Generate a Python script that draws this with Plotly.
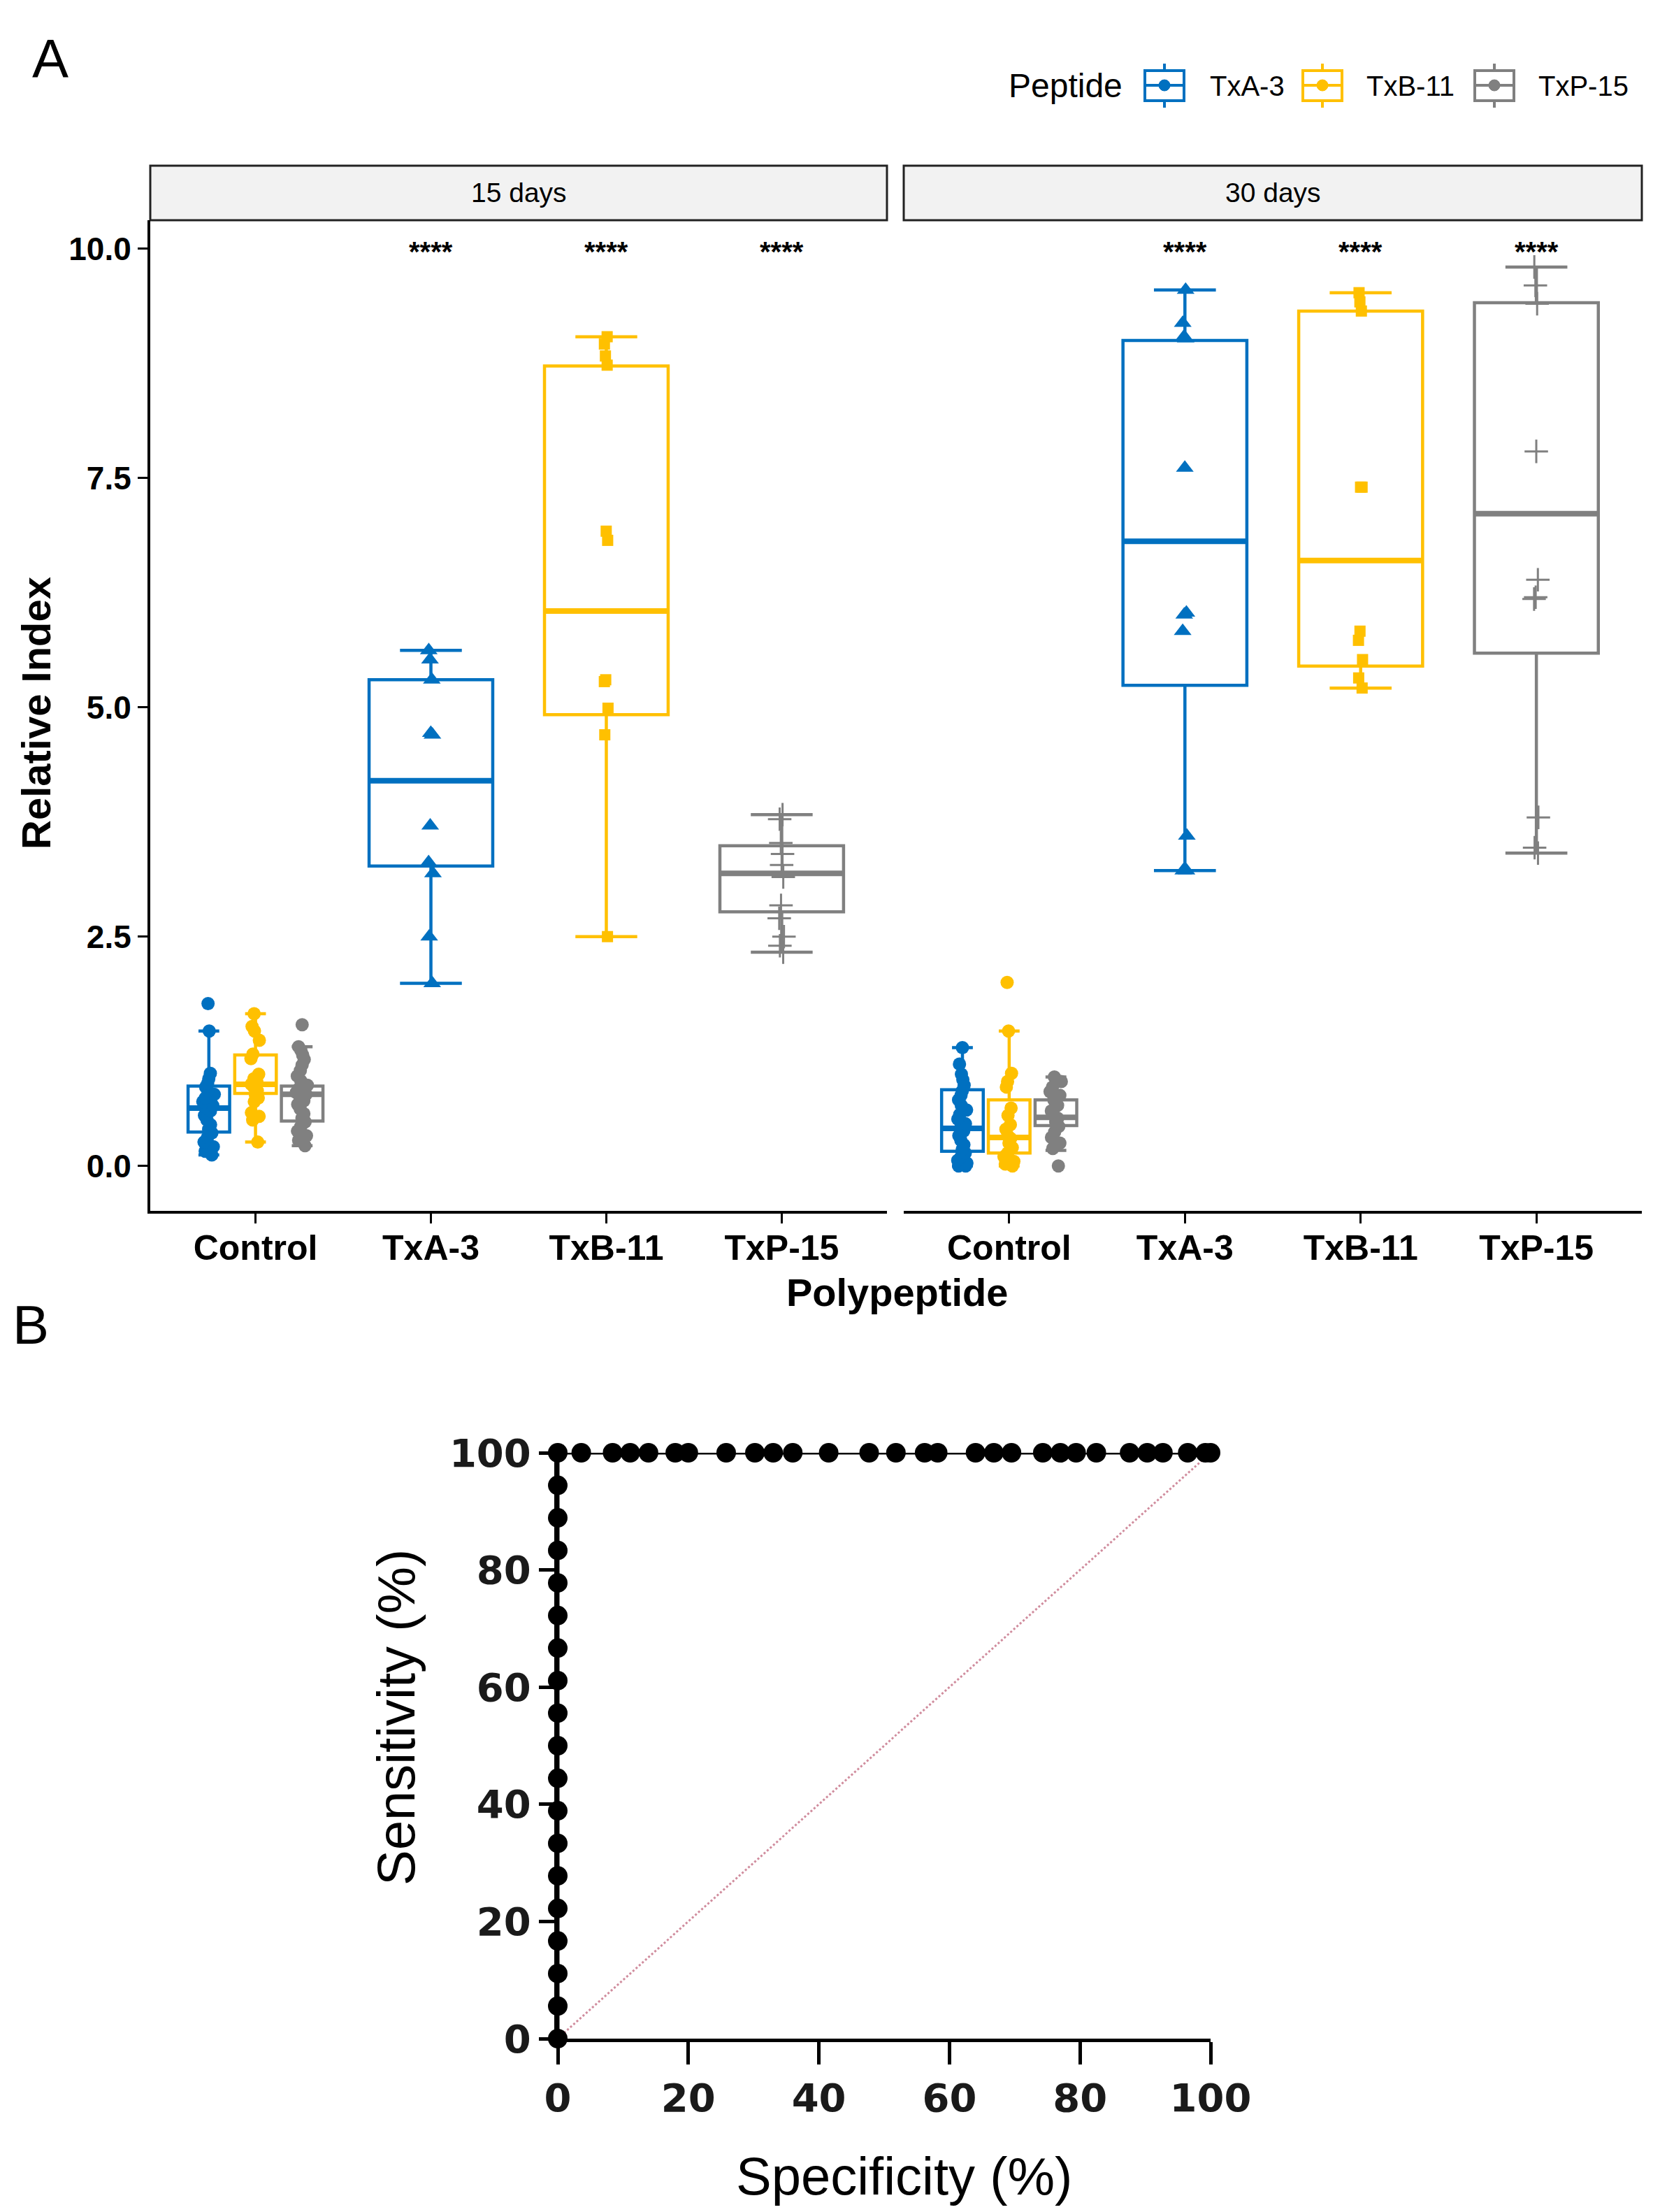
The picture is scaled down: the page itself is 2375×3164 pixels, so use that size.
#######################################
#                package              #
#######################################
import plotly.graph_objects as go

#######################################
#                 Data                #
#######################################

categories = ['Control', 'TxA-3', 'TxB-11', 'TxP-15']
peptides = ['TxA-3', 'TxB-11', 'TxP-15']
days = ['15 days', '30 days']
stars = ['****', '****', '****']

# box statistics (order: TxA-3, TxB-11, TxP-15)
ctrl_q1_15 = [0.37, 0.79, 0.49]
ctrl_med_15 = [0.63, 0.89, 0.78]
ctrl_q3_15 = [0.87, 1.21, 0.87]
ctrl_lo_15 = [0.12, 0.26, 0.22]
ctrl_hi_15 = [1.47, 1.66, 1.30]

trt_q1_15 = [3.27, 4.92, 2.77]
trt_med_15 = [4.20, 6.05, 3.19]
trt_q3_15 = [5.30, 8.72, 3.49]
trt_lo_15 = [1.99, 2.50, 2.33]
trt_hi_15 = [5.62, 9.04, 3.83]

ctrl_q1_30 = [0.16, 0.14, 0.44]
ctrl_med_30 = [0.41, 0.31, 0.53]
ctrl_q3_30 = [0.83, 0.72, 0.72]
ctrl_lo_30 = [0.0, 0.0, 0.17]
ctrl_hi_30 = [1.29, 1.47, 0.97]

trt_q1_30 = [5.24, 5.45, 5.59]
trt_med_30 = [6.81, 6.60, 7.11]
trt_q3_30 = [9.00, 9.32, 9.41]
trt_lo_30 = [3.22, 5.21, 3.41]
trt_hi_30 = [9.55, 9.52, 9.80]

# individual points
ctrl15_txa = [1.77, 1.47, 1.01, 0.95, 0.90, 0.86, 0.82, 0.78, 0.74, 0.70, 0.66, 0.63,
              0.60, 0.55, 0.50, 0.45, 0.40, 0.36, 0.31, 0.26, 0.21, 0.16, 0.12]
ctrl15_txb = [1.66, 1.52, 1.47, 1.37, 1.22, 1.17, 1.00, 0.95, 0.91, 0.89, 0.86, 0.82,
              0.78, 0.74, 0.70, 0.58, 0.54, 0.50, 0.26]
ctrl15_txp = [1.54, 1.30, 1.26, 1.21, 1.16, 1.10, 1.04, 0.98, 0.93, 0.88, 0.84, 0.80,
              0.78, 0.75, 0.71, 0.67, 0.62, 0.57, 0.52, 0.48, 0.43, 0.38, 0.33, 0.28, 0.22]
trt15_txa = [5.62, 5.52, 5.30, 4.72, 4.70, 3.71, 3.31, 3.19, 2.50, 1.99]
trt15_txb = [9.04, 8.96, 8.83, 8.73, 6.92, 6.82, 5.30, 5.28, 4.99, 4.70, 2.50]
trt15_txp = [3.83, 3.78, 3.52, 3.40, 3.28, 3.15, 2.84, 2.70, 2.50, 2.40, 2.33]

ctrl30_txa = [1.29, 1.11, 1.00, 0.94, 0.88, 0.82, 0.77, 0.72, 0.66, 0.61, 0.56, 0.51,
              0.46, 0.42, 0.38, 0.33, 0.28, 0.23, 0.18, 0.14, 0.10, 0.06, 0.03, 0.0, 0.0]
ctrl30_txb = [2.00, 1.47, 1.01, 0.92, 0.86, 0.63, 0.55, 0.45, 0.40, 0.33, 0.30, 0.25,
              0.20, 0.14, 0.10, 0.05, 0.02, 0.0]
ctrl30_txp = [0.97, 0.92, 0.86, 0.81, 0.77, 0.72, 0.66, 0.60, 0.55, 0.52, 0.48, 0.43,
              0.37, 0.31, 0.25, 0.19, 0.0]
trt30_txa = [9.55, 9.19, 9.04, 9.02, 7.61, 6.03, 6.01, 5.83, 3.60, 3.22, 3.22]
trt30_txb = [9.52, 9.42, 9.32, 7.40, 7.40, 5.83, 5.73, 5.52, 5.32, 5.21]
trt30_txp = [9.80, 9.60, 9.40, 7.79, 6.39, 6.20, 6.18, 3.80, 3.47, 3.41]

# ROC curve (panel B)
roc_spec = [0, 0, 0, 0, 0, 0, 0, 0, 0, 0, 0, 0, 0, 0, 0, 0, 0, 0, 0,
            3.6, 8.4, 11.1, 13.9, 18.0, 20.0, 25.8, 30.2, 33.0, 36.0, 41.5, 47.7,
            51.8, 56.2, 58.2, 64.0, 66.8, 69.5, 74.3, 77.0, 79.4, 82.5, 87.6,
            90.3, 92.7, 96.5, 99.2, 100]
roc_sens = [0, 5.56, 11.11, 16.67, 22.22, 27.78, 33.33, 38.89, 44.44, 50.0, 55.56,
            61.11, 66.67, 72.22, 77.78, 83.33, 88.89, 94.44, 100,
            100, 100, 100, 100, 100, 100, 100, 100, 100, 100, 100, 100,
            100, 100, 100, 100, 100, 100, 100, 100, 100, 100, 100,
            100, 100, 100, 100, 100]
ref_line = [0, 100]

#######################################
#                Styles               #
#######################################

W, H = 2375, 3164
FONT = 'Liberation Sans'
colors = ['#0070C0', '#FFC000', '#808080']
symbols = ['triangle-up', 'square', 'cross-thin']
sym_size = [22, 16, 24]
dodge = [-0.266, 0.0, 0.266]
CTRL_W = 0.237
TRT_W = 0.705


def fx(p):
    return p / W


def fy(p):
    return 1 - p / H


#######################################
#                  Fig                #
#######################################

fig = go.Figure()


def add_group(xa, ya, xpos, width, i, stats, pts, is_ctrl):
    q1, med, q3, lo, hi = stats
    color = colors[i]
    fig.add_trace(go.Box(x=[xpos], q1=[q1], median=[med], q3=[q3],
                         lowerfence=[lo], upperfence=[hi], width=width,
                         line=dict(color=color, width=4.5),
                         fillcolor='rgba(255,255,255,0)', boxpoints=False,
                         xaxis=xa, yaxis=ya, showlegend=False, hoverinfo='skip'))
    # thicker median bar
    fig.add_trace(go.Box(x=[xpos], q1=[med], median=[med], q3=[med],
                         lowerfence=[med], upperfence=[med], width=width,
                         line=dict(color=color, width=8),
                         fillcolor='rgba(255,255,255,0)', boxpoints=False,
                         xaxis=xa, yaxis=ya, showlegend=False, hoverinfo='skip'))
    if is_ctrl:
        mk = dict(symbol='circle', size=19, color=color, line=dict(width=0))
        jit = 0.3
    else:
        mk = dict(symbol=symbols[i], size=sym_size[i], color=color,
                  line=dict(color=color, width=3 if symbols[i] == 'cross-thin' else 0))
        jit = 0.05
    fig.add_trace(go.Box(y=pts, x0=xpos, width=width, boxpoints='all', jitter=jit,
                         pointpos=0, line=dict(color=color, width=0),
                         fillcolor='rgba(255,255,255,0)', marker=mk,
                         xaxis=xa, yaxis=ya, showlegend=False))


panels = [
    ('x', 'y', [ctrl_q1_15, ctrl_med_15, ctrl_q3_15, ctrl_lo_15, ctrl_hi_15],
     [trt_q1_15, trt_med_15, trt_q3_15, trt_lo_15, trt_hi_15],
     [ctrl15_txa, ctrl15_txb, ctrl15_txp], [trt15_txa, trt15_txb, trt15_txp]),
    ('x2', 'y2', [ctrl_q1_30, ctrl_med_30, ctrl_q3_30, ctrl_lo_30, ctrl_hi_30],
     [trt_q1_30, trt_med_30, trt_q3_30, trt_lo_30, trt_hi_30],
     [ctrl30_txa, ctrl30_txb, ctrl30_txp], [trt30_txa, trt30_txb, trt30_txp]),
]

for xa, ya, cstat, tstat, cpts, tpts in panels:
    for i in range(3):
        add_group(xa, ya, 1 + dodge[i], CTRL_W, i, [s[i] for s in cstat], cpts[i], True)
        add_group(xa, ya, 2 + i, TRT_W, i, [s[i] for s in tstat], tpts[i], False)

# Panel B: ROC
fig.add_trace(go.Scatter(x=ref_line, y=ref_line, mode='lines', xaxis='x3', yaxis='y3',
                         line=dict(color='rgba(200,120,140,0.85)', width=3, dash='dot'),
                         showlegend=False, hoverinfo='skip'))
fig.add_trace(go.Scatter(x=roc_spec, y=roc_sens, mode='lines+markers', xaxis='x3', yaxis='y3',
                         line=dict(color='black', width=5),
                         marker=dict(color='black', size=28), cliponaxis=False,
                         showlegend=False))

#######################################
#                Layout               #
#######################################

tickfont_a = dict(family=FONT, size=50, color='black', weight='bold')
xa_common = dict(range=[0.4, 4.6], tickvals=[1, 2, 3, 4], ticktext=categories,
                 ticks='outside', ticklen=14, tickwidth=3, tickcolor='black',
                 showline=True, linewidth=4, linecolor='black', showgrid=False,
                 zeroline=False, tickfont=tickfont_a, ticklabelstandoff=-8,
                 automargin=False)

fig.update_layout(
    width=W, height=H, autosize=False,
    margin=dict(l=0, r=0, t=0, b=0),
    paper_bgcolor='white', plot_bgcolor='white',
    boxmode='overlay', showlegend=False,
    xaxis=dict(domain=[fx(207), fx(1261)], anchor='y', **xa_common),
    xaxis2=dict(domain=[fx(1285), fx(2341)], anchor='y2', **xa_common),
    yaxis=dict(domain=[fy(1724), fy(307)], anchor='x', range=[-0.49, 10.31],
               tickvals=[0, 2.5, 5, 7.5, 10], tickformat='.1f',
               ticks='outside', ticklen=14, tickwidth=3, tickcolor='black',
               showline=True, linewidth=4, linecolor='black', showgrid=False,
               zeroline=False, tickfont=dict(family=FONT, size=46, color='black', weight='bold'),
               automargin=False),
    yaxis2=dict(domain=[fy(1724), fy(307)], anchor='x2', matches='y',
                showline=False, showticklabels=False, ticks='', showgrid=False,
                zeroline=False),
    xaxis3=dict(domain=[fx(790), fx(1724)], anchor='y3', range=[0, 100],
                tickvals=[0, 20, 40, 60, 80, 100], ticks='outside', ticklen=32,
                tickwidth=5, tickcolor='black', showline=True, linewidth=5,
                linecolor='black', showgrid=False, zeroline=False,
                tickfont=dict(family='DejaVu Sans', size=56, color='#1a1a1a', weight='bold'),
                automargin=False),
    yaxis3=dict(domain=[fy(2908), fy(2070)], anchor='x3', range=[0, 100],
                tickvals=[0, 20, 40, 60, 80, 100], ticks='outside', ticklen=22,
                tickwidth=5, tickcolor='black', showline=True, linewidth=5,
                linecolor='black', showgrid=False, zeroline=False,
                tickfont=dict(family='DejaVu Sans', size=56, color='#1a1a1a', weight='bold'),
                automargin=False),
)

shapes = []
annotations = []

# facet strips
for x0, x1, label in [(207, 1261, days[0]), (1285, 2341, days[1])]:
    shapes.append(dict(type='rect', xref='paper', yref='paper', x0=fx(x0), x1=fx(x1),
                       y0=fy(307), y1=fy(229), fillcolor='#F2F2F2',
                       line=dict(color='#222222', width=3), layer='below'))
    annotations.append(dict(xref='paper', yref='paper', x=fx((x0 + x1) / 2), y=fy(268),
                            text=label, showarrow=False, xanchor='center', yanchor='middle',
                            font=dict(family=FONT, size=39, color='black')))

# significance stars
for xa in ['x', 'x2']:
    for i, s in enumerate(stars):
        annotations.append(dict(xref=xa, yref='y', x=2 + i, y=10, text=s, showarrow=False,
                                xanchor='center', yanchor='middle', yshift=-4,
                                font=dict(family=FONT, size=40, color='black', weight='bold')))

# legend (drawn by hand to mimic the boxplot key)
annotations.append(dict(xref='paper', yref='paper', x=fx(1433), y=fy(115), text='Peptide',
                        showarrow=False, xanchor='left', yanchor='middle',
                        font=dict(family=FONT, size=48, color='black')))
key_cx = [1658, 1884, 2130]
key_tx = [1721, 1945, 2191]
for i, name in enumerate(peptides):
    cx = key_cx[i]
    c = colors[i]
    shapes.append(dict(type='line', xref='paper', yref='paper', x0=fx(cx), x1=fx(cx),
                       y0=fy(146), y1=fy(83), line=dict(color=c, width=4)))
    shapes.append(dict(type='rect', xref='paper', yref='paper', x0=fx(cx - 28), x1=fx(cx + 28),
                       y0=fy(136), y1=fy(93), fillcolor='white', line=dict(color=c, width=4)))
    shapes.append(dict(type='line', xref='paper', yref='paper', x0=fx(cx - 28), x1=fx(cx + 28),
                       y0=fy(114), y1=fy(114), line=dict(color=c, width=4)))
    shapes.append(dict(type='circle', xref='paper', yref='paper', x0=fx(cx - 8), x1=fx(cx + 8),
                       y0=fy(122), y1=fy(106), fillcolor=c, line=dict(color=c, width=1)))
    annotations.append(dict(xref='paper', yref='paper', x=fx(key_tx[i]), y=fy(115), text=name,
                            showarrow=False, xanchor='left', yanchor='middle',
                            font=dict(family=FONT, size=40, color='black')))

# axis titles and panel letters
annotations += [
    dict(xref='paper', yref='paper', x=fx(43), y=fy(1012), text='Relative Index',
         textangle=-90, showarrow=False, xanchor='center', yanchor='middle',
         font=dict(family=FONT, size=58, color='black', weight='bold')),
    dict(xref='paper', yref='paper', x=fx(1275), y=fy(1840), text='Polypeptide',
         showarrow=False, xanchor='center', yanchor='middle',
         font=dict(family=FONT, size=56, color='black', weight='bold')),
    dict(xref='paper', yref='paper', x=fx(558), y=fy(2449), text='Sensitivity (%)',
         textangle=-90, showarrow=False, xanchor='center', yanchor='middle',
         font=dict(family=FONT, size=76, color='black')),
    dict(xref='paper', yref='paper', x=fx(1285), y=fy(3104), text='Specificity (%)',
         showarrow=False, xanchor='center', yanchor='middle',
         font=dict(family=FONT, size=76, color='black')),
    dict(xref='paper', yref='paper', x=fx(64), y=fy(76), text='A',
         showarrow=False, xanchor='center', yanchor='middle',
         font=dict(family=FONT, size=78, color='black')),
    dict(xref='paper', yref='paper', x=fx(36), y=fy(1887), text='B',
         showarrow=False, xanchor='center', yanchor='middle',
         font=dict(family=FONT, size=78, color='black')),
]

fig.update_layout(shapes=shapes, annotations=annotations)

#######################################
#              Save Fig               #
#######################################

fig.write_html('out.html')
